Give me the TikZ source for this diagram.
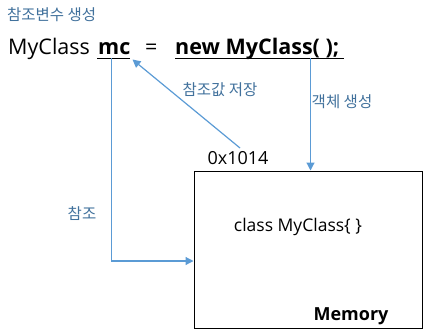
\documentclass[tikz,border=0pt]{standalone}
\usepackage{fontspec}
\setmainfont{Open Sans}
\newfontfamily\kr{Noto Sans CJK KR}
\usetikzlibrary{arrows.meta,calc}
\definecolor{arrowblue}{HTML}{5B9BD5}
\definecolor{labelblue}{HTML}{41719C}
\tikzset{
  lbl/.style={inner sep=0pt, text=labelblue, font=\kr\fontsize{15.5}{17}\selectfont},
  code/.style={inner sep=0pt, anchor=base west, font=\fontsize{21.5}{24}\selectfont},
  conn/.style={draw=arrowblue, line width=1.2pt, -{Triangle[length=8pt,width=8pt]}},
  uline/.style={line width=1.4pt, black},
}
\begin{document}
\begin{tikzpicture}[x=1pt,y=-1pt]
\useasboundingbox (0,0) rectangle (425,334);
\node[lbl, anchor=west] (title) at (7,15) {참조변수 생성};
\node[code] (mytype) at (8,55) {MyClass};
\node[code, font=\fontsize{21.5}{24}\selectfont\bfseries] (mc) at (98,55) {mc};
\node[code] (eq) at (145,55) {=};
\node[code, font=\fontsize{21.5}{24}\selectfont\bfseries] (newexpr) at (175,55) {new MyClass( );};
\coordinate (mcu) at (111.5,58.5);
\coordinate (newu) at (310.5,58.5);
\draw[uline] (97,58.5) -- (129.5,58.5);
\draw[uline] (175,58.5) -- (343.5,58.5);
\node[draw=black, line width=1pt, minimum width=228pt, minimum height=157pt, inner sep=0pt] (mem) at (308,249.5) {};
\node[inner sep=0pt, font=\fontsize{17.5}{20}\selectfont] (classtxt) at (298,227) {class MyClass\{ \}};
\node[inner sep=0pt, font=\fontsize{18}{20}\selectfont\bfseries] (memlbl) at (351,316) {Memory};
\node[inner sep=0pt, font=\fontsize{18}{20}\selectfont] (addr) at (238,158.5) {0x1014};
\node[lbl] (savelbl) at (220,90) {참조값 저장};
\node[lbl] (createlbl) at (342,102) {객체 생성};
\node[lbl] (reflbl) at (82,214) {참조};
\coordinate (addrtop) at (240,148);
\coordinate (memin) at (mem.west |- 0,261);
\draw[conn] (mcu) |- (memin);
\draw[conn] (addrtop) -- (132.5,59.5);
\draw[conn] (newu) -- (newu |- mem.north);
\end{tikzpicture}
\end{document}
